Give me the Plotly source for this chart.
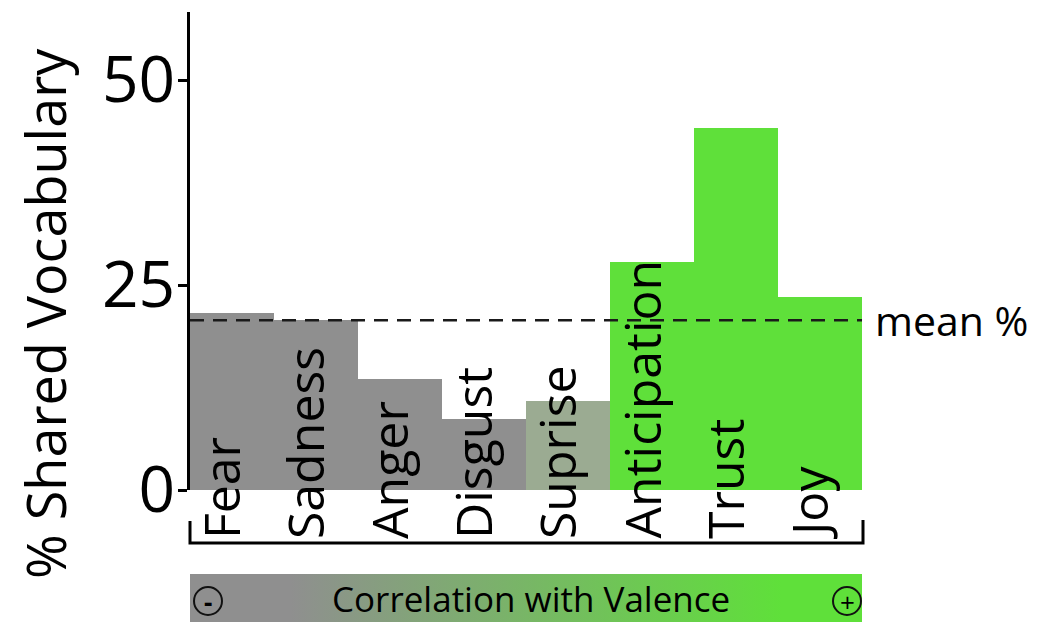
import plotly.graph_objects as go

# ---- data ----
categories = ["Fear", "Sadness", "Anger", "Disgust", "Suprise", "Anticipation", "Trust", "Joy"]
shared_pct = [21.6, 20.7, 13.5, 8.7, 10.9, 27.8, 44.1, 23.5]
bar_colors = ["#8f8f8f", "#8f8f8f", "#8f8f8f", "#8f8f8f", "#9bab92", "#5fe03a", "#5fe03a", "#5fe03a"]
mean_pct = 20.7
y_ticks = [0, 25, 50]

FONT = "Open Sans"
OFF = 8  # page body margin
W, H = 1051 - OFF, 622 - OFF
ML, MT, MB = 190 - OFF, 12 - OFF, 0
MR = W - (862 - OFF)
PW, PH = W - ML - MR, H - MT - MB


def px(x):
    """screen x (reference pixels) -> paper x"""
    return (x - OFF - ML) / PW


def py(y):
    """screen y (reference pixels) -> paper y"""
    return (H - MB - (y - OFF)) / PH


fig = go.Figure()

fig.add_trace(go.Bar(
    x=list(range(len(categories))), y=shared_pct,
    marker=dict(color=bar_colors, line=dict(width=0)),
    width=1, hoverinfo="skip", showlegend=False,
))

# gradient "Correlation with Valence" band
fig.add_trace(go.Scatter(
    x=[0, 1, 1, 0, 0], y=[0, 0, 1, 1, 0],
    xaxis="x2", yaxis="y2", mode="lines", line=dict(width=0),
    fill="toself",
    fillgradient=dict(type="horizontal",
                      colorscale=[[0, "#8f8f8f"], [0.15, "#8f8f8f"], [0.88, "#5fe03a"], [1, "#5fe03a"]]),
    hoverinfo="skip", showlegend=False,
))

n = len(categories)
shapes = [
    dict(type="line", xref="x", yref="y", x0=-0.5, x1=n - 0.5, y0=mean_pct, y1=mean_pct,
         line=dict(color="#1a1a1a", width=2.5, dash="14px,9px")),
    dict(type="path", xref="paper", yref="paper",
         path=f"M {px(190)} {py(521)} L {px(190)} {py(543)} L {px(863)} {py(543)} L {px(863)} {py(520)}",
         line=dict(color="black", width=3)),
]
for cx in (208, 847):
    r = 14
    shapes.append(dict(type="circle", xref="paper", yref="paper",
                       x0=px(cx - r), x1=px(cx + r), y0=py(601 + r), y1=py(601 - r),
                       line=dict(color="#111111", width=2)))

annotations = []
for i, c in enumerate(categories):
    annotations.append(dict(
        x=i - 0.13, xref="x", y=py(541), yref="paper", text=c, textangle=-90,
        xanchor="center", yanchor="bottom", showarrow=False,
        font=dict(family=FONT, size=50, color="black"),
    ))
annotations += [
    dict(x=px(873), xref="paper", y=mean_pct, yref="y", text="mean %", xanchor="left", yanchor="middle",
         showarrow=False, font=dict(family=FONT, size=41, color="black")),
    dict(x=px(45), xref="paper", y=py(314), yref="paper", text="% Shared Vocabulary", textangle=-90,
         xanchor="center", yanchor="middle", showarrow=False,
         font=dict(family=FONT, size=54, color="black")),
    dict(x=px(531), xref="paper", y=py(598), yref="paper", text="Correlation with Valence",
         xanchor="center", yanchor="middle", showarrow=False,
         font=dict(family=FONT, size=35, color="black")),
    dict(x=px(208), xref="paper", y=py(602), yref="paper", text="<b>-</b>",
         xanchor="center", yanchor="middle", showarrow=False,
         font=dict(family=FONT, size=26, color="black")),
    dict(x=px(847), xref="paper", y=py(602), yref="paper", text="+",
         xanchor="center", yanchor="middle", showarrow=False,
         font=dict(family=FONT, size=26, color="black")),
]

fig.update_layout(
    width=W, height=H,
    margin=dict(l=ML, r=MR, t=MT, b=MB, pad=0, autoexpand=False),
    paper_bgcolor="white", plot_bgcolor="white",
    bargap=0,
    showlegend=False,
    xaxis=dict(range=[-0.5, n - 0.5], visible=False, fixedrange=True, automargin=False),
    yaxis=dict(range=[0, 58.3], domain=[py(490), 1], tickvals=y_ticks, automargin=False,
               showline=True, linecolor="black", linewidth=3, mirror=False,
               ticks="outside", ticklen=9, tickwidth=3, tickcolor="black",
               showgrid=False, zeroline=False,
               tickfont=dict(family=FONT, size=64, color="black"), ticklabelstandoff=-10),
    xaxis2=dict(domain=[0, 1], range=[0, 1], visible=False, anchor="y2", automargin=False),
    yaxis2=dict(domain=[0, py(574)], range=[0, 1], visible=False, anchor="x2", automargin=False),
    shapes=shapes,
    annotations=annotations,
)

fig.write_html("out.html")
